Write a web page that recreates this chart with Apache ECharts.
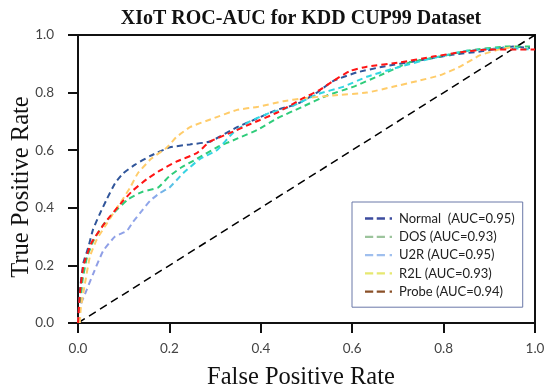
<!DOCTYPE html>
<html><head><meta charset="utf-8">
<script src="https://cdn.jsdelivr.net/npm/echarts@6/dist/echarts.min.js"></script>
<style>html,body{margin:0;padding:0;background:#fff}#c{width:550px;height:390px}</style>
</head><body><div id="c"></div>
<script>
const titleText = "XIoT ROC-AUC for KDD CUP99 Dataset";
const xAxisTitle = "False Positive Rate";
const yAxisTitle = "True Positive Rate";
const xTicks = [0, 0.2, 0.4, 0.6, 0.8, 1.0];
const seriesNames = ["Normal  (AUC=0.95)", "DOS (AUC=0.93)", "U2R (AUC=0.95)", "R2L (AUC=0.93)", "Probe (AUC=0.94)"];

const normalFpr = [0, 0.004, 0.012, 0.022, 0.033, 0.048, 0.063, 0.081, 0.099, 0.125, 0.158, 0.201, 0.245, 0.289, 0.348, 0.392, 0.435, 0.479, 0.523, 0.558, 0.61, 0.667, 0.742, 0.814, 0.886, 0.952, 0.989];
const normalTpr = [0, 0.11, 0.21, 0.26, 0.325, 0.38, 0.43, 0.485, 0.52, 0.55, 0.58, 0.61, 0.62, 0.63, 0.68, 0.71, 0.74, 0.76, 0.80, 0.84, 0.87, 0.89, 0.91, 0.93, 0.944, 0.96, 0.955];

const dosFpr = [0, 0.004, 0.01, 0.02, 0.035, 0.055, 0.08, 0.11, 0.14, 0.175, 0.2, 0.226, 0.26, 0.304, 0.348, 0.392, 0.435, 0.49, 0.545, 0.602, 0.661, 0.726, 0.792, 0.851, 0.939, 0.989];
const dosTpr = [0, 0.05, 0.15, 0.23, 0.29, 0.34, 0.385, 0.43, 0.455, 0.47, 0.51, 0.54, 0.57, 0.61, 0.64, 0.67, 0.71, 0.75, 0.79, 0.82, 0.86, 0.905, 0.925, 0.945, 0.96, 0.96];

const u2rFpr = [0, 0.004, 0.019, 0.033, 0.055, 0.081, 0.107, 0.12, 0.14, 0.158, 0.178, 0.2, 0.23, 0.267, 0.304, 0.339, 0.376, 0.42, 0.464, 0.525, 0.58, 0.632, 0.705, 0.777, 0.851, 0.939, 0.989];
const u2rTpr = [0, 0.055, 0.115, 0.17, 0.25, 0.30, 0.32, 0.35, 0.39, 0.425, 0.45, 0.47, 0.52, 0.57, 0.60, 0.66, 0.70, 0.73, 0.75, 0.795, 0.82, 0.855, 0.89, 0.92, 0.945, 0.955, 0.95];

const r2lFpr = [0.004, 0.006, 0.015, 0.026, 0.041, 0.063, 0.081, 0.096, 0.114, 0.131, 0.16, 0.195, 0.215, 0.245, 0.295, 0.348, 0.392, 0.449, 0.492, 0.558, 0.632, 0.689, 0.742, 0.792, 0.836, 0.88, 0.923, 0.956];
const r2lTpr = [0.0, 0.05, 0.135, 0.23, 0.29, 0.345, 0.39, 0.425, 0.47, 0.52, 0.57, 0.61, 0.645, 0.68, 0.71, 0.74, 0.75, 0.77, 0.78, 0.79, 0.80, 0.82, 0.84, 0.86, 0.89, 0.93, 0.95, 0.96];

const probeFpr = [0, 0.004, 0.012, 0.03, 0.06, 0.099, 0.12, 0.151, 0.18, 0.215, 0.26, 0.289, 0.333, 0.376, 0.435, 0.492, 0.53, 0.558, 0.595, 0.632, 0.705, 0.777, 0.836, 0.895, 1.0];
const probeTpr = [0, 0.1, 0.2, 0.28, 0.35, 0.425, 0.46, 0.50, 0.53, 0.56, 0.59, 0.63, 0.66, 0.69, 0.73, 0.78, 0.81, 0.84, 0.875, 0.89, 0.905, 0.925, 0.94, 0.95, 0.95];

const diagFpr = [0, 1];
const diagTpr = [0, 1];

const colors = ["#30559a", "#2fcc7a", "#2fd8e0", "#ffcc6a", "#ff1414"];
const legendIconColors = ["#3d4c9e", "#9cc49c", "#9fbfee", "#e6e870", "#8a5028"];
const fprs = [normalFpr, dosFpr, u2rFpr, r2lFpr, probeFpr];
const tprs = [normalTpr, dosTpr, u2rTpr, r2lTpr, probeTpr];

const zip = (a, b) => a.map((v, i) => [v, b[i]]);

const u2rGrad = new echarts.graphic.LinearGradient(0, 0, 1, 0, [
  { offset: 0, color: '#8f9be4' }, { offset: 0.17, color: '#8fa6ea' },
  { offset: 0.24, color: '#33d4e2' }, { offset: 1, color: '#2fd8e0' }
]);

const series = seriesNames.map((n, i) => ({
  name: n, type: 'line', symbol: 'none', smooth: 0.15,
  data: zip(fprs[i], tprs[i]),
  lineStyle: { color: i === 2 ? u2rGrad : colors[i], width: 2, type: [6, 4] },
  itemStyle: { color: colors[i] }
}));
series.push({
  name: 'diag', type: 'line', symbol: 'none',
  data: zip(diagFpr, diagTpr),
  lineStyle: { color: '#000', width: 1.5, type: [8, 5] }, z: 1
});

const axisTitleFont = '24.5px "Liberation Serif"';

const chart = echarts.init(document.getElementById('c'));
chart.setOption({
  animation: false,
  title: { text: titleText, left: 296, top: 4, textAlign: 'center',
    textStyle: { fontFamily: 'Liberation Serif', fontWeight: 'bold', fontSize: 20, color: '#111' } },
  grid: { left: 78, right: 15, top: 35, bottom: 67, show: true, borderColor: '#111', borderWidth: 2, backgroundColor: 'transparent' },
  graphic: [
    { type: 'text', x: 301, y: 378, silent: true,
      style: { text: xAxisTitle, font: axisTitleFont, fill: '#111', align: 'center', verticalAlign: 'middle' } },
    { type: 'text', x: 22, y: 187, rotation: Math.PI / 2, silent: true,
      style: { text: yAxisTitle, font: axisTitleFont, fill: '#111', align: 'center', verticalAlign: 'middle' } }
  ],
  legend: {
    data: seriesNames.map((n, i) => ({ name: n, itemStyle: { color: legendIconColors[i] } })),
    orient: 'vertical', left: 352, top: 202,
    padding: [10, 8, 9, 13], itemGap: 5.3, itemWidth: 27, itemHeight: 13,
    borderColor: '#6a78a8', borderWidth: 1,
    textStyle: { fontFamily: 'Lato', fontSize: 13, color: '#222', padding: [0, 0, 0, 2] },
    icon: 'path://M0,5.5 L7,5.5 L7,7.5 L0,7.5 Z M10,5.5 L17,5.5 L17,7.5 L10,7.5 Z M21,5.5 L23,5.5 L23,7.5 L21,7.5 Z'
  },
  xAxis: {
    type: 'value', min: 0, max: 1, interval: 0.2,
    axisLine: { show: true, lineStyle: { color: '#111', width: 2 } },
    axisTick: { show: true, inside: false, length: 10, lineStyle: { color: '#111', width: 2 } },
    axisLabel: { fontFamily: 'Lato', fontSize: 13.5, color: '#444', margin: 19, formatter: v => v.toFixed(1) },
    splitLine: { show: false }
  },
  yAxis: {
    type: 'value', min: 0, max: 1, interval: 0.2,
    axisLine: { show: true, lineStyle: { color: '#111', width: 2 } },
    axisTick: { show: true, inside: false, length: 10, lineStyle: { color: '#111', width: 2 } },
    axisLabel: { fontFamily: 'Lato', fontSize: 13.5, color: '#444', margin: 24, formatter: v => v.toFixed(1) },
    splitLine: { show: false }
  },
  series: series
});
</script></body></html>
